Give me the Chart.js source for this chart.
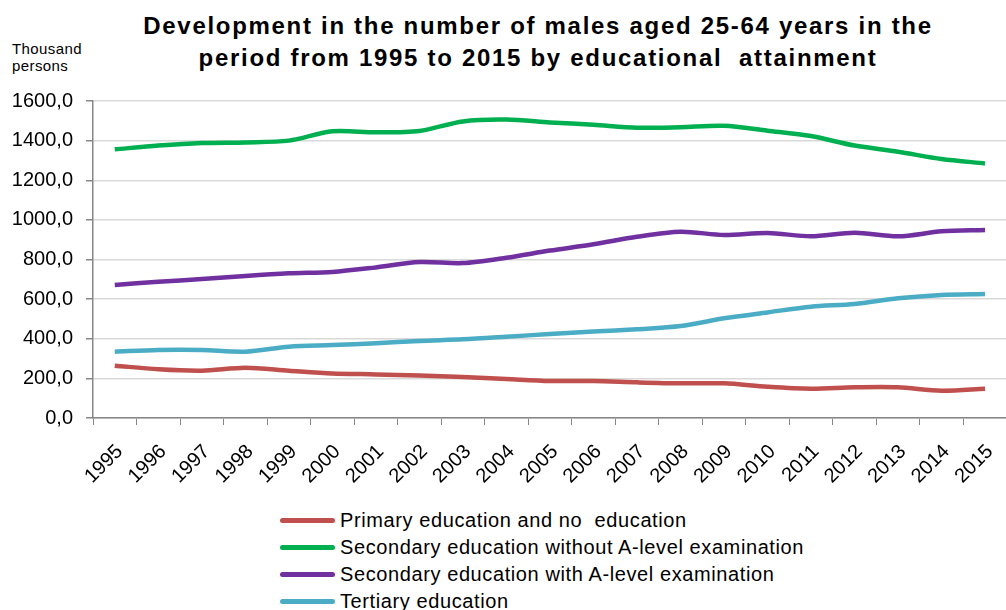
<!DOCTYPE html>
<html>
<head>
<meta charset="utf-8">
<script src="https://cdn.jsdelivr.net/npm/chart.js"></script>
<style>
    html, body{
        margin: 0;
        padding: 0;
        width: 1006px;
        height: 610px;
        overflow: hidden;
        background: #ffffff;
        font-family: "Liberation Sans", Arial, sans-serif;
    }
    .titulo{
        position: absolute;
        left: 88px;
        width: 900px;
        top: 10px;
        text-align: center;
        font-weight: bold;
        font-size: 24px;
        line-height: 32px;
        letter-spacing: 1.7px;
        white-space: pre;
        color: #000;
    }
    .unidade{
        position: absolute;
        left: 12px;
        top: 40px;
        font-size: 15px;
        line-height: 17px;
        letter-spacing: 0.4px;
        color: #000;
    }
    .grafico{
        position: absolute;
        left: 0;
        top: 0;
        width: 1017px;
        height: 500px;
    }
    .legenda{
        position: absolute;
        left: 280px;
        top: 507px;
    }
    .legenda div{
        height: 27px;
        line-height: 27px;
        font-size: 20px;
        letter-spacing: 0.6px;
        white-space: pre;
        color: #000;
    }
    .legenda span{
        display: inline-block;
        width: 55px;
        height: 5px;
        border-radius: 3px;
        margin-right: 5px;
        vertical-align: middle;
        position: relative;
        top: -1px;
    }
</style>
</head>
<body>
<div class="titulo">Development in the number of males aged 25-64 years in the
period from 1995 to 2015 by educational  attainment</div>
<div class="unidade">Thousand<br>persons</div>
<div class="grafico"><canvas id="myChart"></canvas></div>
<div class="legenda" id="legenda"></div>

<script>
// dados
const years = ['1995','1996','1997','1998','1999','2000','2001','2002','2003','2004','2005',
    '2006','2007','2008','2009','2010','2011','2012','2013','2014','2015'];
const primary = [264, 246, 239, 254, 239, 225, 220, 214, 207, 197, 187, 187, 180, 175, 175, 158, 148, 155, 155, 138, 148];
const secondaryNoA = [1356, 1375, 1388, 1391, 1400, 1447, 1442, 1449, 1497, 1506, 1492, 1480, 1465, 1468, 1475, 1450, 1423, 1375, 1344, 1307, 1285];
const secondaryA = [671, 688, 701, 717, 730, 737, 760, 787, 782, 809, 845, 877, 915, 940, 924, 934, 917, 935, 917, 942, 949];
const tertiary = [335, 343, 343, 335, 360, 368, 377, 389, 397, 410, 424, 436, 448, 464, 503, 533, 562, 575, 604, 621, 626];
const seriesNames = ['Primary education and no  education', 'Secondary education without A-level examination',
    'Secondary education with A-level examination', 'Tertiary education'];
const yTicks = [0, 200, 400, 600, 800, 1000, 1200, 1400, 1600];

const cores = ['#c0504d', '#00b050', '#7030a0', '#4bacc6'];
const fonte = '"Liberation Sans", Arial, sans-serif';

function serie(i, dados){
    return {
        label: seriesNames[i],
        data: dados,
        borderColor: cores[i],
        backgroundColor: cores[i],
        borderWidth: 4.5,
        tension: 0.3,
        pointRadius: 0,
        fill: false
    };
}

const ctx = document.getElementById('myChart');

const chart = new Chart(ctx, {
    type: 'line',
    data: {
        labels: years,
        datasets: [
            serie(0, primary),
            serie(1, secondaryNoA),
            serie(2, secondaryA),
            serie(3, tertiary)
        ]
    },
    options: {
        responsive: true,
        maintainAspectRatio: false,
        animation: false,
        layout: {
            padding: { top: 101, left: 0, right: 0, bottom: 0 }
        },
        plugins: {
            legend: { display: false },
            title: { display: false },
            tooltip: { enabled: false }
        },
        scales: {
            x: {
                offset: true,
                grid: {
                    display: true,
                    drawOnChartArea: false,
                    drawTicks: true,
                    tickLength: 7,
                    tickColor: '#868686',
                    offset: true
                },
                border: { color: '#868686', width: 1.5 },
                ticks: {
                    autoSkip: false,
                    maxRotation: 45,
                    minRotation: 45,
                    padding: 15,
                    labelOffset: 5,
                    color: '#000',
                    font: { family: fonte, size: 20 }
                },
                afterFit: function(scale){
                    scale.height = 82;
                }
            },
            y: {
                min: 0,
                max: 1600,
                afterBuildTicks: function(scale){
                    scale.ticks = yTicks.map(function(v){ return { value: v }; });
                },
                grid: {
                    color: '#d9d9d9',
                    lineWidth: 1.5,
                    drawTicks: true,
                    tickLength: 7,
                    tickColor: '#868686'
                },
                border: { color: '#868686', width: 1.5 },
                ticks: {
                    padding: 13,
                    color: '#000',
                    font: { family: fonte, size: 20 },
                    callback: function(v){
                        return v.toFixed(1).replace('.', ',');
                    }
                },
                afterFit: function(scale){
                    scale.width = 93;
                }
            }
        }
    }
});

// legenda montada a partir dos datasets
const legenda = document.getElementById('legenda');
chart.data.datasets.forEach(function(ds){
    const linha = document.createElement('div');
    const amostra = document.createElement('span');
    amostra.style.background = ds.borderColor;
    linha.appendChild(amostra);
    linha.appendChild(document.createTextNode(ds.label));
    legenda.appendChild(linha);
});
</script>
</body>
</html>
